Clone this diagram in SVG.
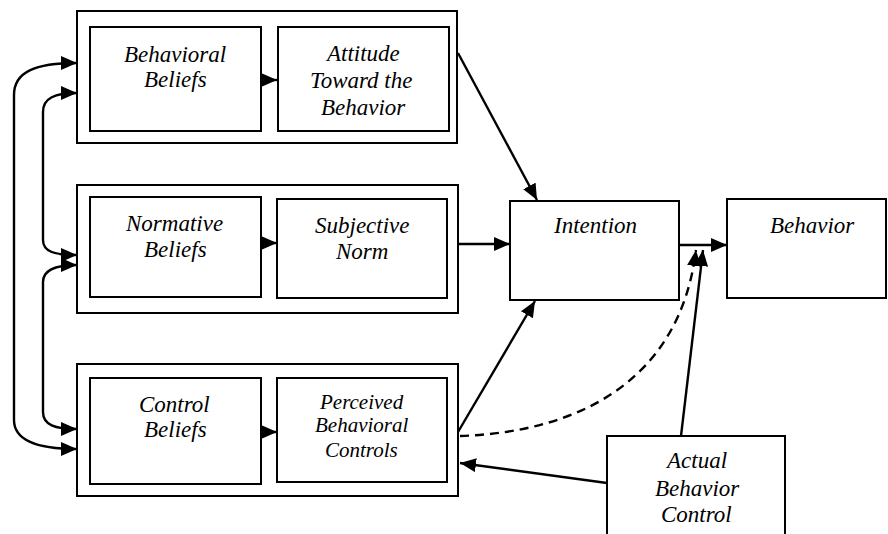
<svg xmlns="http://www.w3.org/2000/svg" width="888" height="534" viewBox="0 0 888 534">
<defs>
<marker id="ah" markerUnits="userSpaceOnUse" markerWidth="17" markerHeight="15" refX="16" refY="7" orient="auto-start-reverse">
<path d="M0,0 L16,7 L0,14 z" fill="#000"/>
</marker>
</defs>
<rect width="888" height="534" fill="#fff"/>
<g id="group-attitude">
<rect x="77" y="11" width="380" height="132" fill="none" stroke="#000" stroke-width="2"/>
<g id="behavioral-beliefs">
<rect x="90" y="27" width="171" height="104" fill="none" stroke="#000" stroke-width="2"/>
<text x="124" y="62" font-family="Liberation Serif" font-style="italic" font-size="23">Behavioral</text>
<text x="144" y="87" font-family="Liberation Serif" font-style="italic" font-size="23">Beliefs</text>
</g>
<g id="attitude">
<rect x="278" y="27" width="171" height="104" fill="none" stroke="#000" stroke-width="2"/>
<text x="327" y="61" font-family="Liberation Serif" font-style="italic" font-size="23">Attitude</text>
<text x="310" y="88" font-family="Liberation Serif" font-style="italic" font-size="23">Toward the</text>
<text x="321" y="115" font-family="Liberation Serif" font-style="italic" font-size="23">Behavior</text>
</g>
</g>
<g id="group-norm">
<rect x="77" y="185" width="381" height="128" fill="none" stroke="#000" stroke-width="2"/>
<g id="normative-beliefs">
<rect x="90" y="197" width="171" height="100" fill="none" stroke="#000" stroke-width="2"/>
<text x="126" y="231" font-family="Liberation Serif" font-style="italic" font-size="23">Normative</text>
<text x="144" y="257" font-family="Liberation Serif" font-style="italic" font-size="23">Beliefs</text>
</g>
<g id="subjective-norm">
<rect x="277" y="199" width="170" height="99" fill="none" stroke="#000" stroke-width="2"/>
<text x="315" y="233" font-family="Liberation Serif" font-style="italic" font-size="23">Subjective</text>
<text x="336" y="259" font-family="Liberation Serif" font-style="italic" font-size="23">Norm</text>
</g>
</g>
<g id="group-control">
<rect x="77" y="364" width="381" height="132" fill="none" stroke="#000" stroke-width="2"/>
<g id="control-beliefs">
<rect x="90" y="378" width="171" height="106" fill="none" stroke="#000" stroke-width="2"/>
<text x="139" y="412" font-family="Liberation Serif" font-style="italic" font-size="23">Control</text>
<text x="144" y="437" font-family="Liberation Serif" font-style="italic" font-size="23">Beliefs</text>
</g>
<g id="perceived-behavioral-controls">
<rect x="277" y="378" width="170" height="104" fill="none" stroke="#000" stroke-width="2"/>
<text x="320" y="409" font-family="Liberation Serif" font-style="italic" font-size="21">Perceived</text>
<text x="315" y="432" font-family="Liberation Serif" font-style="italic" font-size="21">Behavioral</text>
<text x="325" y="457" font-family="Liberation Serif" font-style="italic" font-size="21">Controls</text>
</g>
</g>
<g id="intention">
<rect x="510" y="201" width="169" height="99" fill="#fff" stroke="#000" stroke-width="2"/>
<text x="554" y="233" font-family="Liberation Serif" font-style="italic" font-size="23">Intention</text>
</g>
<g id="behavior">
<rect x="727" y="199" width="159" height="99" fill="#fff" stroke="#000" stroke-width="2"/>
<text x="770" y="233" font-family="Liberation Serif" font-style="italic" font-size="23">Behavior</text>
</g>
<g id="actual-behavior-control">
<rect x="607" y="436" width="178" height="110" fill="#fff" stroke="#000" stroke-width="2"/>
<text x="667" y="468" font-family="Liberation Serif" font-style="italic" font-size="23">Actual</text>
<text x="655" y="496" font-family="Liberation Serif" font-style="italic" font-size="23">Behavior</text>
<text x="661" y="522" font-family="Liberation Serif" font-style="italic" font-size="23">Control</text>
</g>
<g id="connectors" fill="none" stroke="#000" stroke-width="2.4">
<path d="M77,63 C35,63 14,72 14,95 L14,420 C14,440 35,449 77,449" marker-start="url(#ah)" marker-end="url(#ah)"/>
<path d="M77,93 C55,93 43,98 43,112 L43,240 C43,252 55,255 77,255" marker-start="url(#ah)" marker-end="url(#ah)"/>
<path d="M77,265 C55,265 43,270 43,282 L43,412 C43,425 55,429 77,429" marker-start="url(#ah)" marker-end="url(#ah)"/>
<path d="M261,80 L277,80" marker-end="url(#ah)"/>
<path d="M261,243 L277,243" marker-end="url(#ah)"/>
<path d="M261,432 L277,432" marker-end="url(#ah)"/>
<path d="M458,53 L537,200" marker-end="url(#ah)"/>
<path d="M458,244 L510,244" marker-end="url(#ah)"/>
<path d="M458,432 L535,301" marker-end="url(#ah)"/>
<path d="M460,436 C580,432 680,380 696,250" stroke-dasharray="9 6" marker-end="url(#ah)"/>
<path d="M679,245 L727,245" marker-end="url(#ah)"/>
<path d="M681,436 L703,250" marker-end="url(#ah)"/>
<path d="M607,483 L460,463" marker-end="url(#ah)"/>
</g>
</svg>
